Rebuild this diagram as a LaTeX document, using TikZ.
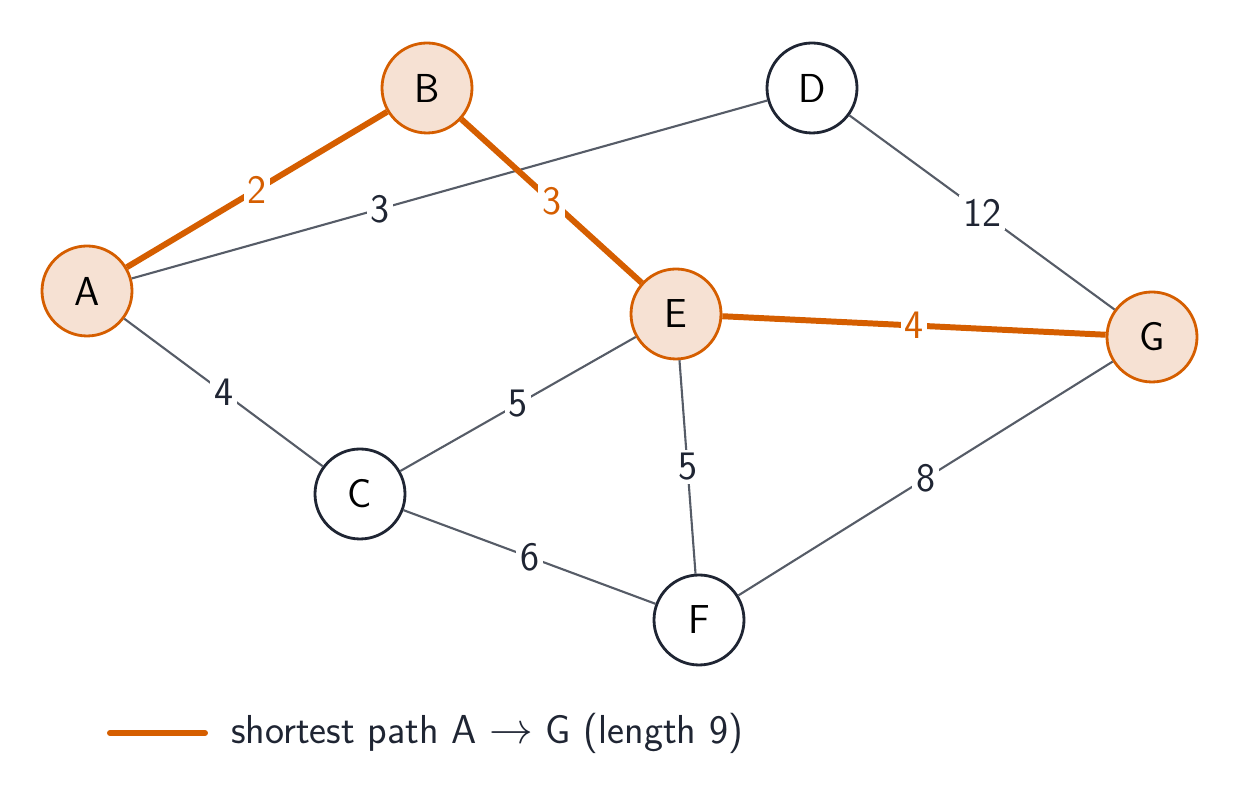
\documentclass[tikz,border=0pt]{standalone}
\usepackage{tikz}
\definecolor{pathorange}{HTML}{D55E00}
\definecolor{pathfill}{HTML}{F6E1D3}
\definecolor{ink}{HTML}{1F2533}
\definecolor{edgegrey}{HTML}{565C67}
\begin{document}
\begin{tikzpicture}
  [font=\sffamily\fontsize{23}{27}\selectfont
  ,vertex/.style={circle,draw=ink,line width=1.6pt,fill=white,minimum size=1.8cm,inner sep=0pt,text=black}
  ,onpath/.style={vertex,draw=pathorange,fill=pathfill}
  ,edge/.style={draw=edgegrey,line width=1.2pt}
  ,best/.style={draw=pathorange,line width=3.4pt}
  ,weight/.style={fill=white,inner sep=2pt,text=ink}
  ,bestweight/.style={weight,text=pathorange}
  ]

  \useasboundingbox (0,0) rectangle (24.82,16.14);

  % vertices
  \node[onpath] (A) at (1.74,10.32) {A};
  \node[onpath] (B) at (8.54,14.38) {B};
  \node[vertex] (D) at (16.24,14.38) {D};
  \node[onpath] (E) at (13.52,9.86) {E};
  \node[onpath] (G) at (23.04,9.4) {G};
  \node[vertex] (C) at (7.2,6.26) {C};
  \node[vertex] (F) at (13.98,3.74) {F};

  % plain edges
  \path[edge] (A) -- node[weight,pos=0.39] {3} (D);
  \path[edge] (A) -- node[weight] {4} (C);
  \path[edge] (C) -- node[weight] {5} (E);
  \path[edge] (C) -- node[weight] {6} (F);
  \path[edge] (E) -- node[weight] {5} (F);
  \path[edge] (F) -- node[weight] {8} (G);
  \path[edge] (D) -- node[weight] {12} (G);

  % shortest path
  \path[best] (A) -- node[bestweight] {2} (B);
  \path[best] (B) -- node[bestweight] {3} (E);
  \path[best] (E) -- node[bestweight] {4} (G);

  % legend
  \coordinate (l1) at (2.2,1.48);
  \coordinate (l2) at (4.1,1.48);
  \draw[best,line cap=round] (l1) -- (l2);
  \node[anchor=west,text=ink] (legend) at (4.5,1.48) {shortest path A $\rightarrow$ G (length 9)};

\end{tikzpicture}
\end{document}
